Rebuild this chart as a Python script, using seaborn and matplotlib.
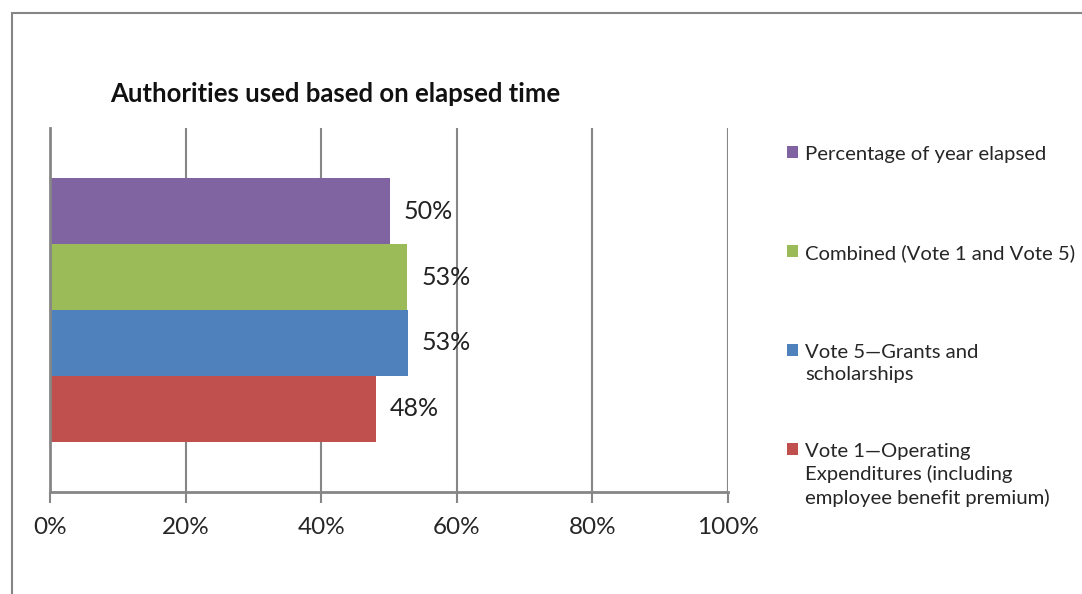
import numpy as np
import pandas as pd
import matplotlib
matplotlib.use("Agg")
import matplotlib.pyplot as plt
from matplotlib.patches import Rectangle
import seaborn as sns

# values (percent of authorities used)
series = ["Percentage of year elapsed",
          "Combined (Vote 1 and Vote 5)",
          "Vote 5\u2014Grants and\nscholarships",
          "Vote 1\u2014Operating\nExpenditures (including\nemployee benefit premium)"]
values = [50.1, 52.7, 52.8, 48.1]
value_labels = ["50%", "53%", "53%", "48%"]
colors = ["#8064A2", "#9BBB59", "#4F81BD", "#C0504D"]
xticks = [0, 20, 40, 60, 80, 100]
xtick_labels = ["0%", "20%", "40%", "60%", "80%", "100%"]

df = pd.DataFrame({"group": ["all"] * 4, "series": series, "value": values})

sns.set_style("white")
plt.rcParams["font.family"] = ["Lato", "DejaVu Sans"]
grid_col = "#868686"

fig = plt.figure(figsize=(10.82, 5.94), dpi=100)
ax = fig.add_axes([50 / 1082, 102 / 594, 678 / 1082, 364 / 594])

sns.barplot(data=df, x="value", y="group", hue="series", hue_order=series,
            palette=colors, orient="h", width=0.725, saturation=1,
            edgecolor="none", legend=True, ax=ax)

for cont, lab in zip(ax.containers, value_labels):
    ax.bar_label(cont, labels=[lab], padding=10, fontsize=18, color="#222222")

ax.set_xlim(0, 100)
ax.set_ylim(0.5, -0.5)
ax.set_xticks(xticks)
ax.set_xticklabels(xtick_labels, fontsize=17.5)
ax.set_yticks([])
ax.set_xlabel("")
ax.set_ylabel("")
ax.tick_params(axis="x", direction="out", length=8, width=1.5, color=grid_col,
               pad=10, bottom=True)
ax.grid(axis="x", color=grid_col, linewidth=1.5)
ax.set_axisbelow(True)
for side in ["top", "right"]:
    ax.spines[side].set_visible(False)
for side in ["left", "bottom"]:
    ax.spines[side].set_color(grid_col)
    ax.spines[side].set_linewidth(2)

# legend: pad every label to three lines so the entries sit evenly spaced
handles, labels = ax.get_legend_handles_labels()
padded = [l + "\n" * (2 - l.count("\n")) for l in labels]
leg = ax.legend(handles, padded, loc="upper left", bbox_to_anchor=(787 / 1082, 1 - 146 / 594),
                bbox_transform=fig.transFigure, frameon=False, fontsize=14.6,
                handlelength=0.55, handleheight=0.55, handletextpad=0.35,
                labelspacing=1.85, borderaxespad=0, borderpad=0)
for t in leg.get_texts():
    t.set_linespacing(1.36)
for col in leg._legend_handle_box.get_children():
    for row in col.get_children():
        row.align = "top"

fig.text(335 / 1082, 1 - 94 / 594, "Authorities used based on elapsed time",
         ha="center", va="center", fontsize=18.5, fontweight="bold", color="#111111")

fig.patches.append(Rectangle((12 / 1082, -0.2), 1.5, 1.2 - 13 / 594,
                             transform=fig.transFigure, fill=False,
                             edgecolor=grid_col, linewidth=1.5))

fig.savefig("out.png", dpi=100)
